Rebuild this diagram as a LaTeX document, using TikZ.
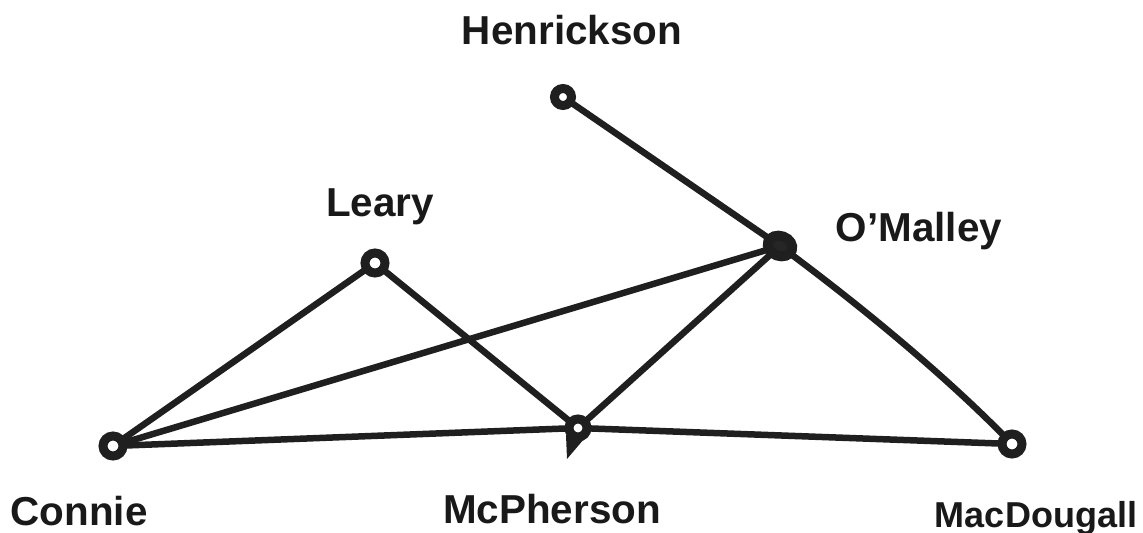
\documentclass[tikz,border=0pt]{standalone}
\usepackage{fontspec}
\setmainfont{Liberation Sans}
\usetikzlibrary{shapes.geometric}
\begin{document}
\begin{tikzpicture}[x=0.02cm, y=-0.02cm,
  edge/.style={line width=0.13cm, line cap=round, black!88},
  person/.style={circle, draw=black!88, line width=0.18cm, fill=white, inner sep=0pt, minimum size=0.40cm},
  hub/.style={ellipse, draw=black!88, line width=0.2cm, fill=black!85, inner sep=0pt, minimum width=0.5cm, minimum height=0.4cm, rotate=-20},
  pname/.style={font=\bfseries\fontsize{23}{27}\selectfont, text=black!90, inner sep=0pt, anchor=base}]
\useasboundingbox (0,0) rectangle (1143,533);

% people
\coordinate (h) at (563,97);
\coordinate (l) at (375,263);
\coordinate (o) at (780,246);
\coordinate (c) at (113,446);
\coordinate (m) at (578,428);
\coordinate (d) at (1012,444);
\coordinate (mtip) at (567,459);

% ties
\draw[edge] (h) -- (o);
\draw[edge] (o) .. controls (880,320) and (960,390) .. (d);
\draw[edge] (l) -- (c);
\draw[edge] (l) -- (m);
\draw[edge] (c) -- (o);
\draw[edge] (c) -- (m);
\draw[edge] (m) -- (d);
\draw[edge] (m) -- (o);

% markers
\node[person, minimum size=0.34cm] (hn) at (h) {};
\node[person] (ln) at (l) {};
\node[hub] (on) at (o) {};
\node[person] (cn) at (c) {};
\node[person, minimum size=0.36cm] (mn) at (m) {};
\node[person] (dn) at (d) {};
% pointed tail under the McPherson ring
\fill[black!88] ([shift={(-12,7)}]m) -- (mtip) -- ([shift={(6,11)}]m) -- cycle;

% names
\node[pname] (hl) at (572,45) {Henrickson};
\node[pname] (ll) at (380,217) {Leary};
\node[pname] (ol) at (919,242) {O’Malley};
\node[pname] (cl) at (79,525) {Connie};
\node[pname] (ml) at (552,523) {McPherson};
\node[pname, font=\bfseries\fontsize{20.5}{24}\selectfont] (dl) at (1036,527) {MacDougall};
\end{tikzpicture}
\end{document}
